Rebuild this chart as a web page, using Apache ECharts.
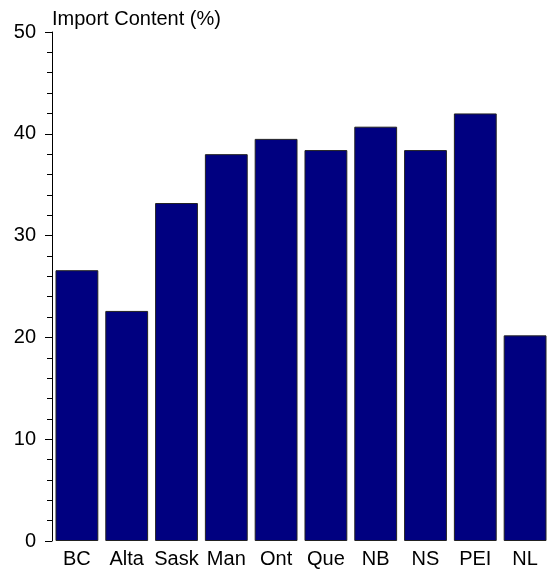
<!DOCTYPE html>
<html>
<head>
<meta charset="utf-8">
<script src="https://cdn.jsdelivr.net/npm/echarts@6/dist/echarts.min.js"></script>
<style>
  html, body { margin: 0; padding: 0; background: #fff; }
  #chart { width: 550px; height: 571px; }
</style>
</head>
<body>
<div id="chart"></div>
<script>
var provinces = ['BC', 'Alta', 'Sask', 'Man', 'Ont', 'Que', 'NB', 'NS', 'PEI', 'NL'];
var importContent = [26.6, 22.6, 33.2, 38.0, 39.5, 38.4, 40.7, 38.4, 42.0, 20.2];
var yTicks = [0, 10, 20, 30, 40, 50];

var chart = echarts.init(document.getElementById('chart'));

var option = {
  animation: false,
  textStyle: { fontFamily: 'Liberation Sans, Arial, sans-serif' },
  title: {
    text: 'Import Content (%)',
    left: 52,
    top: 9,
    padding: 0,
    textStyle: { fontSize: 20, fontWeight: 'normal', color: '#000' }
  },
  grid: {
    left: 52,
    top: 32,
    width: 500,
    bottom: 30
  },
  xAxis: {
    type: 'category',
    data: provinces,
    axisLine: { show: false },
    axisTick: { show: false },
    axisLabel: { color: '#000', fontSize: 20, margin: 8, interval: 0, hideOverlap: false }
  },
  yAxis: {
    type: 'value',
    min: yTicks[0],
    max: yTicks[yTicks.length - 1],
    interval: 10,
    splitLine: { show: false },
    axisLine: { show: true, lineStyle: { color: '#000', width: 1 } },
    axisTick: { show: true, inside: false, length: 7, lineStyle: { color: '#000' } },
    minorTick: { show: true, splitNumber: 5, length: 5, lineStyle: { color: '#000' } },
    axisLabel: { color: '#000', fontSize: 20, margin: 16 }
  },
  series: [
    {
      name: 'Import Content',
      type: 'bar',
      data: importContent,
      barCategoryGap: '14%',
      itemStyle: {
        color: '#000080',
        borderColor: '#222',
        borderWidth: 1
      }
    }
  ]
};

chart.setOption(option);
</script>
</body>
</html>
